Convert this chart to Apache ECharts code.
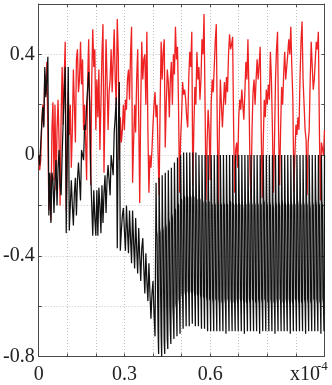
<!DOCTYPE html>
<html>
<head>
<meta charset="utf-8">
<script src="https://cdn.jsdelivr.net/npm/echarts@6/dist/echarts.min.js"></script>
<style>
  html, body { margin: 0; padding: 0; background: #fff; }
  #chart { width: 332px; height: 385px; }
</style>
</head>
<body>
<div id="chart"></div>
<script>
// time in units of 1e-4, sampled at a fixed step
const RED_STEP = 1 / 280
const BLACK_EARLY_STEP = 1 / 280
const BLACK_LATE_STEP = 1 / 560
const BLACK_LATE_START = 230 / 560

const redValues = [
  0, -0.06, -0.02, 0.12, 0.2, 0.12, 0.32, 0.24, 0.37, 0.1,
  -0.22, -0.08, -0.26, 0.1, 0.21, -0.1, 0.2, -0.14, 0.1, 0.22,
  0.05, -0.2, 0.15, 0.35, 0.12, 0.3, 0.45, -0.22, 0.0, 0.25,
  0.08, 0.2, -0.05, 0.1, 0.34, 0.2, 0.05, 0.38, 0.42, 0.25,
  0.3, 0.45, 0.28, 0.38, 0.1, 0.2, 0.05, -0.1, 0.3, 0.46,
  0.2, -0.12, 0.3, 0.5, 0.35, 0.42, 0.1, 0.3, 0.15, 0.34,
  0.02, 0.2, 0.4, 0.52, -0.07, 0.2, 0.46, 0.3, 0.1, 0.25,
  0.3, 0.42, 0.25, 0.38, 0.5, 0.3, 0.2, 0.54, 0.4, -0.02,
  0.15, 0.05, 0.1, 0.2, 0.1, 0.22, 0.18, 0.3, 0.34, 0.22,
  0.4, 0.51, -0.11, 0.05, 0.2, 0.09, 0.3, 0.42, 0.15, -0.19,
  0.2, 0.45, 0.3, 0.38, 0.4, 0.2, 0.49, 0.1, -0.15, 0.0,
  -0.05, 0.02, 0.12, 0.2, 0.25, 0.15, 0.2, 0.0, -0.16, 0.2,
  0.45, 0.3, 0.41, 0.46, 0.03, 0.2, 0.34, 0.29, 0.15, 0.3,
  0.37, 0.2, 0.4, 0.32, 0.51, 0.38, 0.43, 0.2, -0.15, 0.06,
  0.15, 0.29, 0.24, 0.26, 0.22, 0.15, 0.11, 0.3, 0.41, 0.35,
  0.49, -0.12, 0.1, 0.27, 0.2, 0.41, 0.3, 0.35, 0.22, 0.3,
  0.46, 0.4, 0.56, 0.2, -0.18, 0.05, 0.18, 0.1, -0.1, 0.2,
  0.3, 0.25, 0.35, 0.45, 0.52, 0.1, -0.2, 0.1, 0.3, 0.2,
  0.11, 0.2, 0.29, 0.2, 0.31, 0.25, 0.4, 0.48, 0.42, 0.44,
  0.47, 0.1, -0.15, 0.02, 0.05, -0.05, 0.15, 0.22, 0.18, 0.26,
  0.2, 0.14, 0.25, 0.37, 0.3, 0.46, 0.25, -0.05, -0.18, 0.1,
  0.25, 0.3, 0.2, 0.3, 0.38, 0.3, 0.36, 0.43, 0.1, -0.17,
  0.05, 0.22, 0.15, 0.26, 0.2, 0.28, 0.22, 0.41, 0.3, 0.1,
  -0.15, 0.05, 0.3, 0.42, 0.49, 0.1, -0.12, 0.1, 0.27, 0.2,
  0.32, 0.41, 0.3, 0.35, 0.4, 0.46, 0.4, 0.51, 0.35, 0.22,
  -0.15, 0.0, 0.12, 0.08, 0.15, 0.1, 0.3, 0.45, 0.53, 0.3,
  0.2, 0.1, 0.06, -0.16, 0.05, 0.1, 0.3, 0.45, 0.35, 0.26,
  0.3, 0.38, 0.45, 0.42, 0.49, 0.1, -0.18, 0.05, 0.05, 0.0,
  0.1,
]

// black trace, irregular part up to t = 0.41
const blackEarly = [
  0, -0.04, 0.04, 0.12, 0.19, 0.11, 0.35, 0.23, 0.3, 0.39,
  -0.24, -0.07, -0.27, -0.07, -0.1, -0.23, -0.1, -0.02, -0.2, -0.05,
  0.02, -0.12, -0.16, 0.0, 0.13, 0.25, 0.35, -0.31, -0.31, 0.35,
  -0.3, -0.2, -0.1, -0.2, -0.28, -0.15, -0.09, -0.24, -0.1, -0.03,
  -0.1, -0.18, 0.02, 0.0, -0.02, 0.12, 0.1, 0.2, 0.2, 0.33,
  0.2, -0.07, -0.2, -0.32, -0.14, -0.25, -0.32, -0.14, -0.32, -0.13,
  -0.2, -0.31, -0.12, -0.27, -0.15, -0.08, -0.23, -0.1, -0.04, -0.1,
  -0.16, 0.0, -0.04, -0.08, 0.09, 0.15, 0.23, -0.37, 0.1, 0.29,
  -0.38, -0.3, -0.24, -0.21, -0.3, -0.38, -0.2, -0.3, -0.39, -0.22,
  -0.33, -0.43, -0.22, -0.35, -0.45, -0.25, -0.37, -0.47, -0.29, -0.4,
  -0.5, -0.37, -0.33, -0.45, -0.55, -0.39, -0.5, -0.58, -0.43, -0.55,
  -0.65, -0.55, -0.5, -0.63, -0.72,
]

// black trace, regular oscillation from t = 0.41 (one row per cycle)
const blackLate = [
  -0.11, -0.30, -0.32, -0.55, -0.70, -0.79,
  -0.09, -0.29, -0.31, -0.56, -0.72, -0.80,
  -0.08, -0.28, -0.30, -0.57, -0.74, -0.79,
  -0.07, -0.27, -0.29, -0.60, -0.73, -0.77,
  -0.06, -0.25, -0.27, -0.60, -0.70, -0.75,
  -0.05, -0.23, -0.25, -0.60, -0.65, -0.73,
  -0.03, -0.21, -0.22, -0.59, -0.61, -0.72,
  -0.01, -0.19, -0.20, -0.57, -0.59, -0.71,
  0.00, -0.17, -0.18, -0.55, -0.57, -0.69,
  0.01, -0.16, -0.17, -0.54, -0.56, -0.68,
  0.01, -0.16, -0.17, -0.54, -0.55, -0.68,
  0.01, -0.16, -0.17, -0.54, -0.55, -0.67,
  0.01, -0.16, -0.17, -0.54, -0.56, -0.68,
  0.01, -0.17, -0.18, -0.55, -0.56, -0.68,
  0.00, -0.17, -0.18, -0.55, -0.57, -0.69,
  0.00, -0.18, -0.19, -0.56, -0.57, -0.69,
  0.00, -0.18, -0.19, -0.56, -0.58, -0.70,
  0.00, -0.18, -0.19, -0.57, -0.58, -0.70,
  0.00, -0.19, -0.20, -0.57, -0.59, -0.70,
  0.00, -0.19, -0.20, -0.57, -0.58, -0.70,
  0.00, -0.18, -0.20, -0.57, -0.59, -0.70,
  0.00, -0.19, -0.20, -0.58, -0.59, -0.70,
  0.00, -0.19, -0.20, -0.57, -0.59, -0.71,
  0.00, -0.19, -0.20, -0.57, -0.58, -0.70,
  0.00, -0.18, -0.19, -0.57, -0.59, -0.70,
  0.00, -0.19, -0.20, -0.58, -0.59, -0.70,
  0.00, -0.19, -0.20, -0.57, -0.59, -0.70,
  0.00, -0.19, -0.20, -0.57, -0.58, -0.70,
  0.00, -0.19, -0.21, -0.57, -0.59, -0.71,
  0.00, -0.19, -0.20, -0.58, -0.59, -0.70,
  0.00, -0.18, -0.20, -0.57, -0.59, -0.70,
  0.00, -0.19, -0.20, -0.57, -0.58, -0.70,
  0.00, -0.19, -0.20, -0.58, -0.59, -0.70,
  0.00, -0.19, -0.20, -0.57, -0.59, -0.71,
  0.00, -0.19, -0.20, -0.57, -0.59, -0.70,
  0.00, -0.18, -0.19, -0.57, -0.58, -0.70,
  0.00, -0.19, -0.20, -0.58, -0.59, -0.70,
  0.00, -0.19, -0.20, -0.57, -0.59, -0.70,
  0.00, -0.19, -0.21, -0.58, -0.59, -0.71,
  0.00, -0.19, -0.20, -0.57, -0.59, -0.70,
  0.00, -0.19, -0.20, -0.57, -0.58, -0.70,
  0.00, -0.18, -0.20, -0.58, -0.59, -0.70,
  0.00, -0.19, -0.20, -0.57, -0.59, -0.70,
  0.00, -0.19, -0.20, -0.57, -0.59, -0.71,
  0.00, -0.19, -0.20, -0.58, -0.59, -0.70,
  0.00, -0.19, -0.20, -0.57, -0.58, -0.70,
  0.00, -0.18, -0.20, -0.57, -0.59, -0.70,
  0.00, -0.19, -0.20, -0.58, -0.59, -0.70,
  0.00, -0.19, -0.20, -0.57, -0.59, -0.71,
  0.00, -0.19, -0.20, -0.57, -0.59, -0.70,
  0.00, -0.19, -0.21, -0.58, -0.59, -0.70,
  0.00, -0.19, -0.20, -0.57, -0.58, -0.70,
  0.00, -0.18, -0.20, -0.57, -0.59, -0.70,
  0.00, -0.19, -0.20, -0.58, -0.59, -0.71,
  0.00, -0.19, -0.20, -0.57, -0.59, -0.70,
  0.00,
]

const xTickLabels = { 0: '0', 3: '0.3', 6: '0.6' }
const yTickLabels = { '-8': '-0.8', '-4': '-0.4', 0: '0', 4: '0.4' }

const FONT = '"Liberation Serif", "DejaVu Serif", serif'
const FRAME = '#4a4a4a'
const GRID = '#c4c4c4'

const redData = redValues.map((v, i) => [i * RED_STEP, v])
const blackData = blackEarly.map((v, i) => [i * BLACK_EARLY_STEP, v])
  .concat(blackLate.map((v, i) => [BLACK_LATE_START + i * BLACK_LATE_STEP, v]))

const chart = echarts.init(document.getElementById('chart'), null, { renderer: 'canvas' })

const frameAxis = {
  axisLine: { show: true, onZero: false, lineStyle: { color: FRAME, width: 1 } },
  axisTick: { show: true, inside: true, length: 3, lineStyle: { color: FRAME } },
}

chart.setOption({
  animation: false,
  grid: { left: 35, right: 7.5, top: 4, bottom: 28.5 },
  xAxis: [
    {
      type: 'value', min: 0, max: 1, interval: 0.1, position: 'bottom',
      ...frameAxis,
      axisLabel: {
        margin: 8, fontFamily: FONT, fontSize: 20, color: '#222',
        showMinLabel: true, showMaxLabel: true,
        formatter: v => xTickLabels[Math.round(v * 10)] || '',
      },
      splitLine: { show: true, lineStyle: { color: GRID, type: [1, 2] } },
    },
    {
      type: 'value', min: 0, max: 1, interval: 0.1, position: 'top',
      ...frameAxis, axisLabel: { show: false }, splitLine: { show: false },
    },
  ],
  yAxis: [
    {
      type: 'value', min: -0.8, max: 0.6, interval: 0.2, position: 'left',
      ...frameAxis,
      axisLabel: {
        margin: 4, fontFamily: FONT, fontSize: 20, color: '#222',
        formatter: v => yTickLabels[Math.round(v * 10)] || '',
      },
      splitLine: { show: true, lineStyle: { color: GRID, type: [1, 2] } },
    },
    {
      type: 'value', min: -0.8, max: 0.6, interval: 0.2, position: 'right',
      ...frameAxis, axisLabel: { show: false }, splitLine: { show: false },
    },
  ],
  graphic: [
    { type: 'text', left: 290, top: 365, style: { text: 'x10', font: '20px ' + FONT, fill: '#222' } },
    { type: 'text', left: 317, top: 360, style: { text: '-4', font: '13px ' + FONT, fill: '#222' } },
  ],
  series: [
    {
      name: 'red', type: 'line', data: redData, showSymbol: false, sampling: null,
      lineStyle: { color: '#ee2222', width: 1.3 }, z: 2,
    },
    {
      name: 'black', type: 'line', data: blackData, showSymbol: false, sampling: null,
      lineStyle: { color: '#111', width: 1.25 }, z: 3,
    },
  ],
})
</script>
</body>
</html>
